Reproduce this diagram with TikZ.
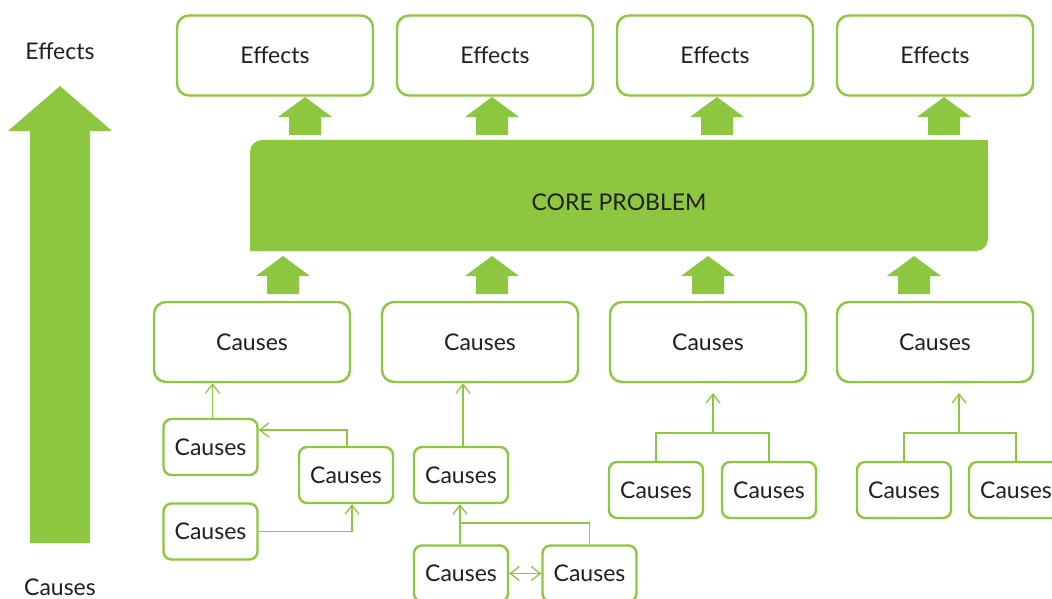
\documentclass[tikz,border=0pt]{standalone}
\usepackage{fontspec}
\setmainfont{Lato}
\usetikzlibrary{positioning, arrows.meta}
\definecolor{LeafGreen}{RGB}{141,198,63}
\definecolor{InkColor}{RGB}{35,31,32}
\tikzstyle{bigbox} = [draw=LeafGreen, line width=2.4pt, fill=white, rounded corners=12pt, minimum width=196pt, minimum height=80pt, inner sep=0pt, text=InkColor, font=\fontsize{23}{27}\selectfont]
\tikzstyle{smallbox} = [draw=LeafGreen, line width=2.4pt, fill=white, rounded corners=8pt, minimum width=94pt, minimum height=56pt, inner sep=0pt, text=InkColor, font=\fontsize{23}{27}\selectfont]
\tikzstyle{plain} = [text=InkColor, font=\fontsize{23}{27}\selectfont]
\tikzstyle{line} = [LeafGreen, line width=1.3pt]
\tikzstyle{link} = [line, -{Straight Barb[length=9pt, width=14pt]}]
\tikzstyle{twolink} = [line, {Straight Barb[length=9pt, width=14pt]}-{Straight Barb[length=9pt, width=14pt]}]
\tikzset{blockup/.pic={\fill[LeafGreen] (0,0) -- (27,20) -- (16,20) -- (16,38) -- (-16,38) -- (-16,20) -- (-27,20) -- cycle;}}

\begin{document}
\begin{tikzpicture}[x=1pt, y=-1pt]
        \useasboundingbox (0,0) rectangle (1052,599);

        % Side scale
        \node[plain] (effectslabel) at (60,51) {Effects};
        \node[plain] (causeslabel) at (60,587) {Causes};
        \fill[LeafGreen] (60,86) -- (112,131) -- (90,131) -- (90,543) -- (30,543) -- (30,131) -- (8,131) -- cycle;

        % Effects
        \node[bigbox] (e1) at (275,55.5) {Effects};
        \node[bigbox] (e2) at (495,55.5) {Effects};
        \node[bigbox] (e3) at (715,55.5) {Effects};
        \node[bigbox] (e4) at (935,55.5) {Effects};

        % Core problem
        \fill[LeafGreen, rounded corners=12pt] (250,140) rectangle (988,251);
        \fill[LeafGreen] (900,140) rectangle (988,200);
        \fill[LeafGreen] (250,200) rectangle (320,251);
        \node[plain] (core) at (619,202) {CORE PROBLEM};

        % Block arrows
        \pic at (305,97) {blockup};
        \pic at (492,97) {blockup};
        \pic at (717,97) {blockup};
        \pic at (944,97) {blockup};
        \pic at (283,256) {blockup};
        \pic at (492,256) {blockup};
        \pic at (708,256) {blockup};
        \pic at (914,256) {blockup};

        % Causes
        \node[bigbox] (c1) at (252,342) {Causes};
        \node[bigbox] (c2) at (480,342) {Causes};
        \node[bigbox] (c3) at (708,342) {Causes};
        \node[bigbox] (c4) at (935,342) {Causes};

        % Sub causes, first group
        \node[smallbox] (s1a) at (210.5,447) {Causes};
        \node[smallbox] (s1b) at (346,475) {Causes};
        \node[smallbox] (s1c) at (210.5,531.5) {Causes};
        \draw[link] ([xshift=2pt]s1a.north) -- ([xshift=2pt]s1a.north |- c1.south);
        \draw[link] ([xshift=1pt]s1b.north) |- ([yshift=17pt]s1a.east);
        \draw[link] (s1c.east) -| ([xshift=6pt]s1b.south);

        % Sub causes, second group
        \node[smallbox] (s2a) at (461,475) {Causes};
        \node[smallbox] (s2b) at (461,573.5) {Causes};
        \node[smallbox] (s2c) at (589.5,573.5) {Causes};
        \coordinate (j2) at (460,523);
        \draw[link] ([xshift=2pt]s2a.north) -- ([xshift=2pt]s2a.north |- c2.south);
        \draw[link] ([xshift=-1pt]s2b.north) -- ([xshift=-1pt]s2a.south);
        \draw[line] (s2c.north) |- (j2);
        \draw[twolink] (s2b.east) -- (s2c.west);

        % Sub causes, third group
        \node[smallbox] (s3a) at (656,490) {Causes};
        \node[smallbox] (s3b) at (769,490) {Causes};
        \coordinate (j3) at (713,433);
        \coordinate (t3) at (713,393);
        \draw[line] (s3a.north) |- (j3) -| (s3b.north);
        \draw[link] (j3) -- (t3);

        % Sub causes, fourth group
        \node[smallbox] (s4a) at (904,490) {Causes};
        \node[smallbox] (s4b) at (1016,490) {Causes};
        \coordinate (j4) at (959,433);
        \coordinate (t4) at (959,393);
        \draw[line] (s4a.north) |- (j4) -| (s4b.north);
        \draw[link] (j4) -- (t4);

      \end{tikzpicture}
\end{document}
